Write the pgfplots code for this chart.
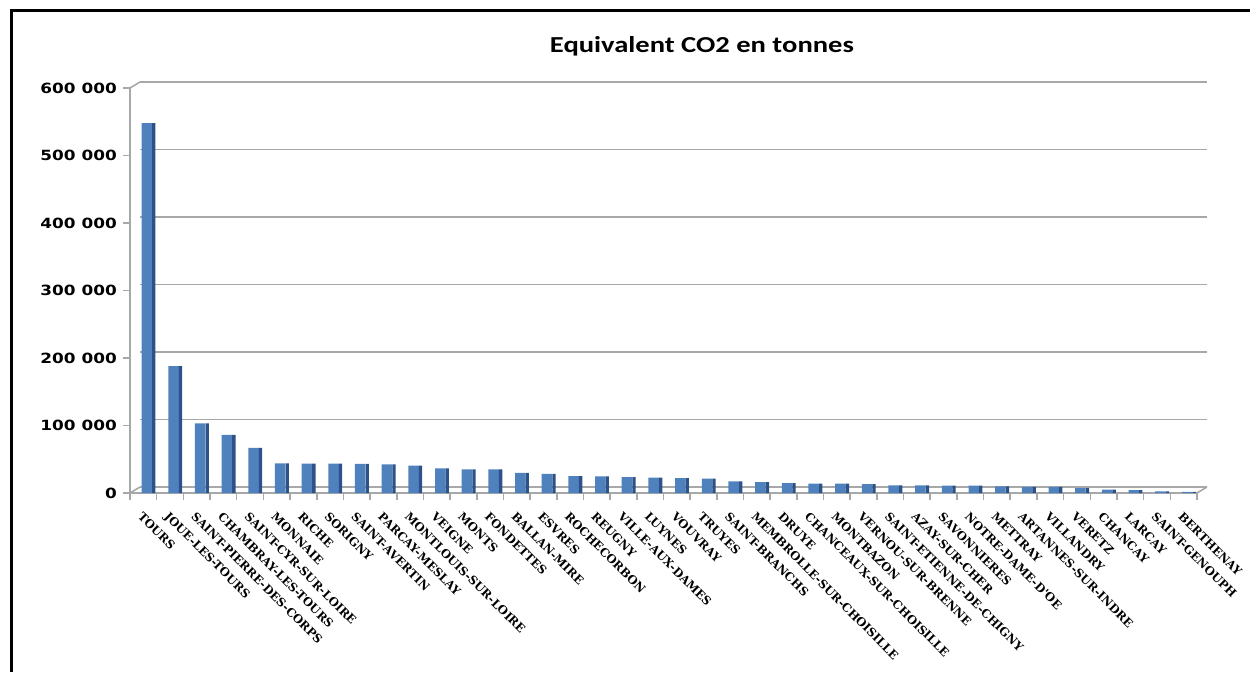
\documentclass[border=0pt]{standalone}
\usepackage{fontspec}
\usepackage{pgfplots}
\usepackage{pgfplotstable}
\pgfplotsset{compat=1.18}
\newfontfamily\titlefont[FakeStretch=1.25]{Carlito}
\newfontfamily\yfont[FakeStretch=1.2]{DejaVu Sans}
\newfontfamily\xfont{DejaVu Serif}
\definecolor{barfront}{HTML}{4F81BD}
\definecolor{barside}{HTML}{2D5287}
\definecolor{gridgray}{HTML}{A8A8A8}
\pgfplotstableread{
i v
0 548000
1 188000
2 103000
3 86000
4 67000
5 44000
6 43500
7 43500
8 43000
9 42500
10 40500
11 36500
12 35000
13 35000
14 30000
15 28500
16 25000
17 24500
18 23500
19 22700
20 22200
21 21200
22 17300
23 16300
24 14800
25 13800
26 13800
27 13300
28 11400
29 11400
30 10900
31 10900
32 9900
33 8900
34 8900
35 7400
36 4900
37 4400
38 2500
39 1500
}\data
\begin{document}
\begin{tikzpicture}[x=1cm,y=1cm]
\useasboundingbox (0,0) rectangle (25,13.44);
\draw[line width=0.06cm, black] (0.22,0) -- (0.22,13.22) -- (25,13.22);
\begin{axis}[
  at={(2.6cm,3.58cm)}, anchor=south west,
  scale only axis, width=21.34cm, height=8.1cm,
  xmin=-0.5, xmax=39.5, ymin=0, ymax=600000,
  scaled y ticks=false,
  clip=false,
  axis x line*=bottom, axis y line*=left,
  axis line style={gridgray, line width=0.9pt},
  tick align=outside,
  major tick length=0.14cm, minor tick length=0.14cm,
  ytick={0,100000,200000,300000,400000,500000,600000},
  yticklabels={0,100 000,200 000,300 000,400 000,500 000,600 000},
  ytick style={gridgray, line width=0.9pt},
  yticklabel style={font=\yfont\bfseries\fontsize{8}{9}\selectfont, text=black},
  ymajorgrids,
  major grid style={gridgray, line width=0.9pt, xshift=0.2cm, yshift=0.12cm},
  xtick={0,...,39},
  major x tick style={draw=none},
  minor xtick={-0.5,0.5,...,39.5},
  minor x tick style={gridgray, line width=0.9pt},
  xticklabels={TOURS,JOUE-LES-TOURS,SAINT-PIERRE-DES-CORPS,CHAMBRAY-LES-TOURS,SAINT-CYR-SUR-LOIRE,MONNAIE,RICHE,SORIGNY,SAINT-AVERTIN,PARCAY-MESLAY,MONTLOUIS-SUR-LOIRE,VEIGNE,MONTS,FONDETTES,BALLAN-MIRE,ESVRES,ROCHECORBON,REUGNY,VILLE-AUX-DAMES,LUYNES,VOUVRAY,TRUYES,SAINT-BRANCHS,MEMBROLLE-SUR-CHOISILLE,DRUYE,CHANCEAUX-SUR-CHOISILLE,MONTBAZON,VERNOU-SUR-BRENNE,SAINT-ETIENNE-DE-CHIGNY,AZAY-SUR-CHER,SAVONNIERES,NOTRE-DAME-D'OE,METTRAY,ARTANNES-SUR-INDRE,VILLANDRY,VERETZ,CHANCAY,LARCAY,SAINT-GENOUPH,BERTHENAY},
  xticklabel style={font=\xfont\bfseries\fontsize{6.6}{7}\selectfont, rotate=-45, anchor=north west, inner sep=0pt},
  xticklabel shift=0.22cm,
  title={Equivalent CO2 en tonnes},
  title style={at={(axis description cs:0.536,1.076)}, anchor=center, font=\titlefont\bfseries\fontsize{13}{15}\selectfont},
]
\addplot[ybar, bar width=0.21cm, bar shift=0.07cm, fill=barfront, draw=none] table[x=i,y=v] {\data};
\addplot[ybar, bar width=0.066cm, bar shift=0.21cm, fill=barside, draw=none] table[x=i,y=v] {\data};
\draw[gridgray, line width=0.9pt] (axis cs:-0.5,600000) -- ++(0.2cm,0.12cm);
\draw[gridgray, line width=0.9pt] (axis cs:-0.5,0) -- ++(0.2cm,0.12cm);
\draw[gridgray, line width=0.9pt] (axis cs:39.5,0) -- ++(0.2cm,0.12cm);
\end{axis}
\end{tikzpicture}
\end{document}
